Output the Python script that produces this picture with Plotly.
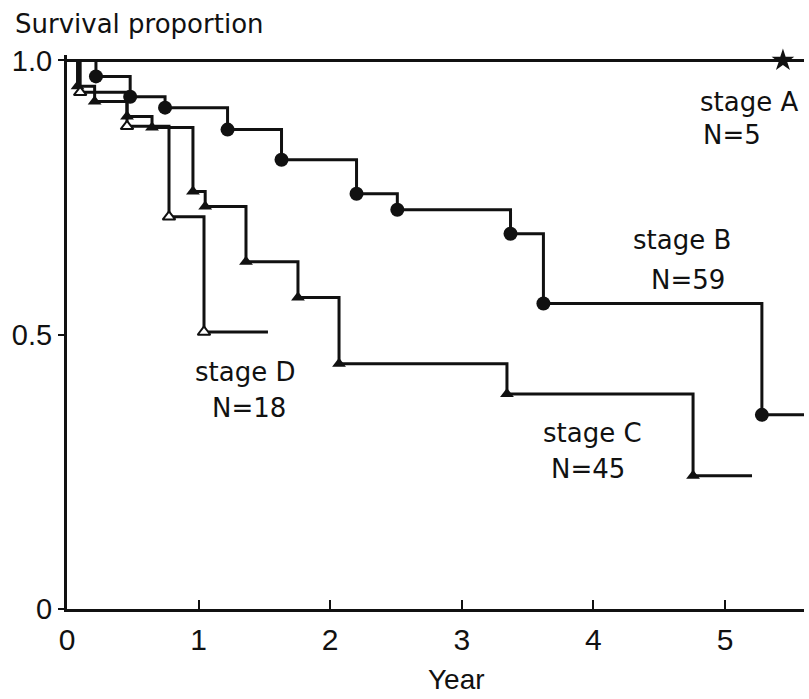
import plotly.graph_objects as go

# ---- data (years, survival proportion) ----
stage_a_end = 5.6
stage_a_star_t = [5.44]
stage_a_star_s = [1.0]

stage_b_t = [0.22, 0.48, 0.745, 1.22, 1.63, 2.20, 2.51, 3.37, 3.62, 5.28]
stage_b_s = [0.971, 0.934, 0.914, 0.874, 0.819, 0.757, 0.728, 0.684, 0.557, 0.354]
stage_b_end = 5.6

stage_c_t = [0.08, 0.21, 0.456, 0.646, 0.957, 1.05, 1.36, 1.755, 2.067, 3.343, 4.757]
stage_c_s = [0.953, 0.925, 0.898, 0.878, 0.761, 0.734, 0.633, 0.568, 0.447, 0.392, 0.243]
stage_c_end = 5.205

stage_d_t = [0.10, 0.456, 0.775, 1.041]
stage_d_s = [0.942, 0.880, 0.715, 0.505]
stage_d_end = 1.527

x_ticks = [0, 1, 2, 3, 4, 5]
x_tick_text = ["0", "1", "2", "3", "4", "5"]
y_ticks = [0, 0.5, 1.0]
y_tick_text = ["0", "0.5", "1.0"]

labels = [
    ("stage A", 5.18, 0.925), ("N=5", 5.05, 0.865),
    ("stage B", 4.67, 0.672), ("N=59", 4.72, 0.60),
    ("stage C", 3.99, 0.321), ("N=45", 3.96, 0.255),
    ("stage D", 1.35, 0.432), ("N=18", 1.38, 0.367),
]

INK = "#111111"
LW = 3

fig = go.Figure()


def km_line(ts, ss, end):
    xs = [0] + list(ts) + [end]
    ys = [1.0] + list(ss) + [ss[-1] if ss else 1.0]
    fig.add_trace(go.Scatter(x=xs, y=ys, mode="lines", line=dict(color=INK, width=LW, shape="hv"),
                             hoverinfo="skip", showlegend=False, cliponaxis=False))


# stage A
fig.add_trace(go.Scatter(x=[0, stage_a_end], y=[1.0, 1.0], mode="lines",
                         line=dict(color=INK, width=LW), showlegend=False, cliponaxis=False))
km_line(stage_b_t, stage_b_s, stage_b_end)
km_line(stage_c_t, stage_c_s, stage_c_end)
km_line(stage_d_t, stage_d_s, stage_d_end)

fig.add_trace(go.Scatter(x=stage_a_star_t, y=stage_a_star_s, mode="markers",
                         marker=dict(symbol="star", size=17, color=INK), showlegend=False, cliponaxis=False))
fig.add_trace(go.Scatter(x=stage_b_t, y=stage_b_s, mode="markers",
                         marker=dict(symbol="circle", size=14, color=INK), showlegend=False, cliponaxis=False))
fig.add_trace(go.Scatter(x=stage_c_t, y=stage_c_s, mode="markers",
                         marker=dict(symbol="triangle-up", size=12, color=INK), showlegend=False, cliponaxis=False))
fig.add_trace(go.Scatter(x=stage_d_t, y=stage_d_s, mode="markers",
                         marker=dict(symbol="triangle-up", size=11, color="white",
                                     line=dict(color=INK, width=2)), showlegend=False, cliponaxis=False))

ann_font = dict(family="DejaVu Sans, Liberation Sans, Arial", size=26, color=INK)
annotations = []
for txt, x, y in labels:
    annotations.append(dict(text=txt, x=x, y=y, xref="x", yref="y", showarrow=False,
                            xanchor="center", yanchor="middle", font=ann_font))
annotations.append(dict(text="Survival proportion", x=-0.073, y=1.056, xref="paper", yref="paper",
                        showarrow=False, xanchor="left", yanchor="middle",
                        font=dict(family="DejaVu Sans, Liberation Sans, Arial", size=26, color=INK)))
annotations.append(dict(text="Year", x=0.528, y=-0.128, xref="paper", yref="paper",
                        showarrow=False, xanchor="center", yanchor="middle",
                        font=dict(family="Liberation Sans, Arial", size=28, color=INK)))

x_tick_font = dict(family="Liberation Sans, Arial", size=30, color=INK)
y_tick_font = dict(family="Liberation Sans, Arial", size=29, color=INK)

fig.update_layout(
    width=809, height=699,
    margin=dict(l=67, r=5, t=55, b=90),
    paper_bgcolor="white", plot_bgcolor="white",
    annotations=annotations,
    xaxis=dict(range=[0, 5.6], showgrid=False, zeroline=False, showline=True, linecolor=INK,
               linewidth=3, tickmode="array", tickvals=x_ticks, ticktext=x_tick_text,
               ticks="inside", ticklen=9, tickwidth=2, tickcolor=INK, tickfont=x_tick_font,
               ticklabelstandoff=2),
    yaxis=dict(range=[0, 1.01], showgrid=False, zeroline=False, showline=True, linecolor=INK,
               linewidth=3, tickmode="array", tickvals=y_ticks, ticktext=y_tick_text,
               ticks="outside", ticklen=6, tickwidth=2, tickcolor=INK, tickfont=y_tick_font),
)

fig.write_html("out.html")
